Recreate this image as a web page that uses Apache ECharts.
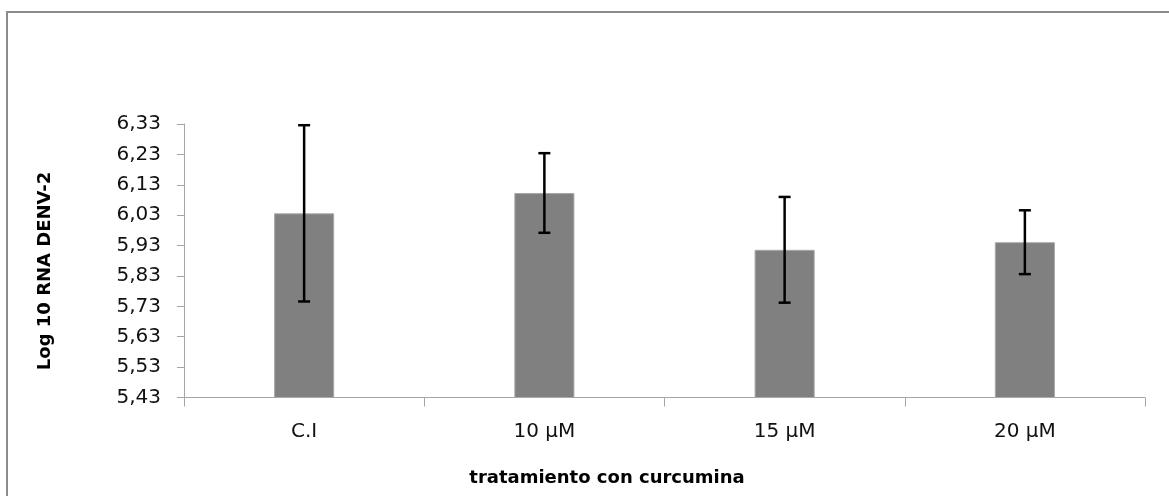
<!DOCTYPE html>
<html>
<head>
<meta charset="utf-8">
<script src="https://cdn.jsdelivr.net/npm/echarts@6/dist/echarts.min.js"></script>
<style>html,body{margin:0;padding:0;background:#fff;}#c{width:1169px;height:496px;}</style>
</head>
<body>
<div id="c"></div>
<script>
const categories = ['C.I', '10 µM', '15 µM', '20 µM'];
const means = [6.036, 6.103, 5.916, 5.941];
const errors = [0.29, 0.131, 0.174, 0.105];
const yMin = 5.43, yMax = 6.33, yStep = 0.1;
const yTitle = 'Log 10 RNA DENV-2';
const xTitle = 'tratamiento con curcumina';

const FONT = 'DejaVu Sans';
const chart = echarts.init(document.getElementById('c'), null, {renderer: 'canvas'});
const errData = means.map((m, i) => [i, m - errors[i], m + errors[i]]);

chart.setOption({
  animation: false,
  backgroundColor: '#fff',
  grid: {left: 184, right: 24, top: 124, bottom: 98.5},
  xAxis: {
    type: 'category',
    data: categories,
    axisLine: {lineStyle: {color: '#a6a6a6', width: 1}},
    axisTick: {show: true, length: 9, lineStyle: {color: '#a6a6a6'}},
    axisLabel: {color: '#111', fontFamily: FONT, fontSize: 20, margin: 24}
  },
  yAxis: {
    type: 'value',
    min: yMin, max: yMax, interval: yStep,
    axisLine: {show: true, lineStyle: {color: '#a6a6a6', width: 1}},
    axisTick: {show: true, length: 7, lineStyle: {color: '#a6a6a6'}},
    splitLine: {show: false},
    axisLabel: {color: '#111', fontFamily: FONT, fontSize: 20, margin: 23,
      formatter: v => v.toFixed(2).replace('.', ',')}
  },
  series: [
    {
      type: 'bar',
      data: means,
      barWidth: '25%',
      itemStyle: {color: '#808080', borderColor: '#a8a8a8', borderWidth: 1}
    },
    {
      type: 'custom',
      data: errData,
      z: 10,
      renderItem: function (params, api) {
        const x = api.coord([api.value(0), api.value(1)])[0];
        const yLo = api.coord([api.value(0), api.value(1)])[1];
        const yHi = api.coord([api.value(0), api.value(2)])[1];
        const hw = 6;
        const st = {stroke: '#000', lineWidth: 2.5};
        return {
          type: 'group',
          children: [
            {type: 'line', shape: {x1: x, y1: yLo, x2: x, y2: yHi}, style: st},
            {type: 'line', shape: {x1: x - hw, y1: yLo, x2: x + hw, y2: yLo}, style: st},
            {type: 'line', shape: {x1: x - hw, y1: yHi, x2: x + hw, y2: yHi}, style: st}
          ]
        };
      }
    }
  ],
  graphic: [
    {type: 'rect', shape: {x: 7, y: 12, width: 1200, height: 520},
     style: {fill: 'none', stroke: '#8c8c8c', lineWidth: 2}, silent: true},
    {type: 'text', x: 607, y: 478,
     style: {text: xTitle, fontFamily: FONT, fontSize: 18, fontWeight: 'bold', fill: '#000',
       textAlign: 'center', textVerticalAlign: 'middle'}},
    {type: 'text', x: 45, y: 271, rotation: Math.PI / 2,
     style: {text: yTitle, fontFamily: FONT, fontSize: 18, fontWeight: 'bold', fill: '#000',
       textAlign: 'center', textVerticalAlign: 'middle'}}
  ]
});
</script>
</body>
</html>
